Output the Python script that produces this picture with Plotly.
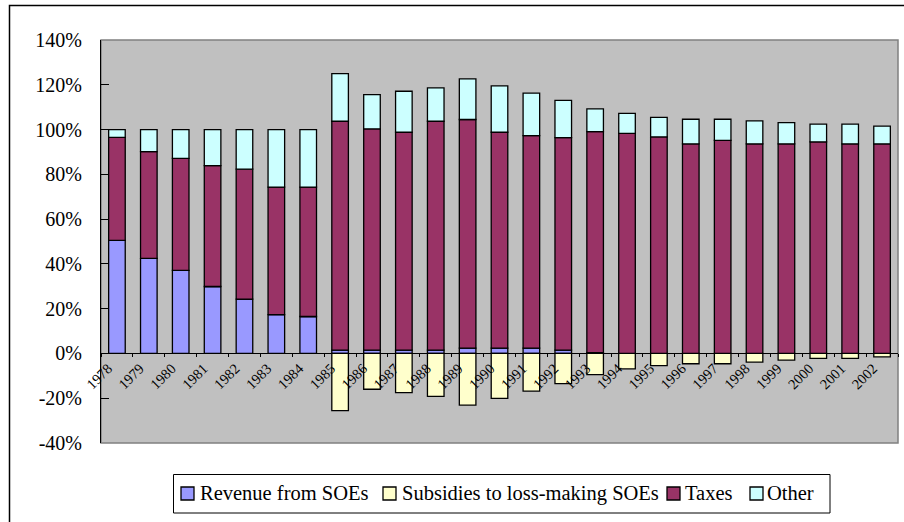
import plotly.graph_objects as go

# Composition of government budget revenue (share of total), 1978-2002
years = [str(y) for y in range(1978, 2003)]

revenue_from_soes = [50.5, 42.5, 37.1, 29.9, 24.3, 17.3, 16.5,
                     1.5, 1.5, 1.5, 1.5, 2.4, 2.4, 2.4, 1.5, 0.4,
                     0, 0, 0, 0, 0, 0, 0, 0, 0]
subsidies_loss_making = [0, 0, 0, 0, 0, 0, 0,
                         -25.5, -16.0, -17.5, -19.2, -23.1, -20.1, -16.8, -13.5, -9.5,
                         -6.9, -5.4, -4.6, -4.6, -3.9, -3.0, -2.2, -2.2, -1.5]
taxes = [46.0, 47.6, 50.0, 54.0, 58.0, 57.0, 57.8,
         102.2, 98.8, 97.3, 102.2, 102.1, 96.4, 94.9, 94.9, 98.7,
         98.3, 96.7, 93.6, 95.2, 93.6, 93.6, 94.5, 93.6, 93.6]
other = [3.5, 9.9, 12.9, 16.1, 17.7, 25.7, 25.7,
         21.3, 15.3, 18.3, 14.9, 18.1, 20.7, 19.0, 16.6, 10.1,
         8.9, 8.7, 11.0, 9.4, 10.3, 9.5, 7.9, 8.8, 7.9]

y_tick_vals = [-40, -20, 0, 20, 40, 60, 80, 100, 120, 140]
y_tick_labels = ["-40%", "-20%", "0%", "20%", "40%", "60%", "80%", "100%", "120%", "140%"]

series = [
    ("Revenue from SOEs", revenue_from_soes, "#9999FF"),
    ("Subsidies to loss-making SOEs", subsidies_loss_making, "#FFFFCC"),
    ("Taxes", taxes, "#993366"),
    ("Other", other, "#CCFFFF"),
]

SERIF = "Liberation Serif"

fig = go.Figure()
for name, vals, color in series:
    fig.add_trace(go.Bar(
        x=years, y=vals, name=name, showlegend=False,
        marker=dict(color=color, line=dict(color="black", width=1.3)),
    ))

W, H = 904, 522
ML, MR, MT, MB = 101, 6, 40, 79
pw, ph = W - ML - MR, H - MT - MB


def px_x(p):
    return (p - ML) / pw


def px_y(p):
    return (H - MB - p) / ph


ymin, ymax = -40, 140
zero_pos = (0 - ymin) / (ymax - ymin)

shapes = [
    # plot-area frame
    dict(type="rect", xref="paper", yref="paper", x0=0, x1=1, y0=0, y1=1,
         line=dict(color="#808080", width=1.5), fillcolor="rgba(0,0,0,0)", layer="below"),
    # chart-area border
    dict(type="rect", xref="paper", yref="paper",
         x0=px_x(9.5), x1=px_x(W + 20), y0=px_y(H + 20), y1=px_y(5.5),
         line=dict(color="black", width=1.5), fillcolor="rgba(0,0,0,0)", layer="above"),
    # legend box
    dict(type="rect", xref="paper", yref="paper",
         x0=px_x(173.5), x1=px_x(830), y0=px_y(513), y1=px_y(474.5),
         line=dict(color="black", width=1), fillcolor="white", layer="above"),
]
annotations = []

# legend entries: swatch left edge and label left edge, in pixels
legend_slots = [(181, 199), (383, 401), (667, 684), (750, 766)]
legend_mid = 493.5
for (name, _, color), (sx, tx) in zip(series, legend_slots):
    shapes.append(dict(
        type="rect", xref="paper", yref="paper",
        x0=px_x(sx), x1=px_x(sx + 13), y0=px_y(legend_mid + 6.5), y1=px_y(legend_mid - 6.5),
        line=dict(color="black", width=1.3), fillcolor=color, layer="above",
    ))
    annotations.append(dict(
        xref="paper", yref="paper", x=px_x(tx - 1), y=px_y(legend_mid),
        xanchor="left", yanchor="middle", showarrow=False, text=name,
        font=dict(family=SERIF, size=20.5, color="black"),
    ))

fig.update_layout(
    width=W, height=H,
    margin=dict(l=ML, r=MR, t=MT, b=MB, pad=0),
    paper_bgcolor="white",
    plot_bgcolor="#C0C0C0",
    barmode="relative",
    bargap=0.48,
    font=dict(family=SERIF, color="black"),
    showlegend=False,
    xaxis=dict(
        type="category",
        anchor="free", position=zero_pos,
        showline=True, linecolor="black", linewidth=1,
        ticks="outside", tickson="boundaries", ticklen=3, tickcolor="black",
        tickangle=-45,
        tickfont=dict(family=SERIF, size=14.5, color="black"),
        ticklabelshift=-9,
        showgrid=False, zeroline=False,
    ),
    yaxis=dict(
        range=[ymin, ymax],
        tickvals=y_tick_vals, ticktext=y_tick_labels,
        showline=True, linecolor="black", linewidth=1,
        ticks="inside", ticklen=8, tickcolor="black",
        tickfont=dict(family=SERIF, size=20, color="black"),
        ticklabelstandoff=14,
        showgrid=False, zeroline=False,
    ),
    shapes=shapes,
    annotations=annotations,
)

fig.write_html("out.html")
